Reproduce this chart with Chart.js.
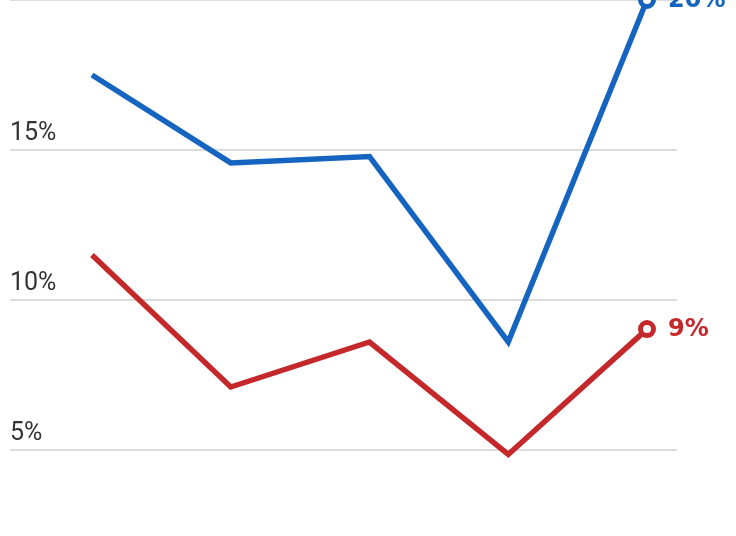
<!DOCTYPE html>
<html>
<head>
<meta charset="utf-8">
<script src="https://cdn.jsdelivr.net/npm/chart.js@4"></script>
<style>
  html, body { margin: 0; padding: 0; background: #fff; }
  #wrap { width: 736px; height: 536px; position: relative; }
</style>
</head>
<body>
<div id="wrap"><canvas id="chart"></canvas></div>
<script>
// values (percent)
const years = ['2018', '2019', '2020', '2021', '2022'];
const blueValues = [17.5, 14.57, 14.78, 8.6, 20];
const redValues = [11.5, 7.1, 8.6, 4.85, 9.03];
const tickValues = [5, 10, 15, 20];
const tickLabels = ['5%', '10%', '15%', '20%'];

const blue = '#1565c0';
const red = '#c4282a';

// gridlines + left labels sitting on top of each line
const gridPlugin = {
    id: 'grid',
    beforeDatasetsDraw(chart) {
        const ctx = chart.ctx;
        const y = chart.scales.y;
        ctx.save();
        tickValues.forEach((v, i) => {
            const py = Math.round(y.getPixelForValue(v));
            ctx.strokeStyle = '#dcdcdc';
            ctx.lineWidth = 2;
            ctx.beginPath();
            ctx.moveTo(10, py);
            ctx.lineTo(677, py);
            ctx.stroke();
            ctx.fillStyle = '#333';
            ctx.font = '25px Roboto';
            ctx.textAlign = 'left';
            ctx.textBaseline = 'alphabetic';
            ctx.fillText(tickLabels[i], 10, py - 10);
        });
        ctx.restore();
    }
};

// value label next to the last point of each line
const endLabels = {
    id: 'endLabels',
    afterDatasetsDraw(chart) {
        const ctx = chart.ctx;
        ctx.save();
        chart.data.datasets.forEach((ds, i) => {
            const meta = chart.getDatasetMeta(i);
            const last = meta.data[meta.data.length - 1];
            const v = ds.data[ds.data.length - 1];
            ctx.fillStyle = ds.borderColor;
            ctx.font = 'bold 24px "DejaVu Sans"';
            ctx.textAlign = 'left';
            ctx.textBaseline = 'middle';
            ctx.fillText(Math.round(v) + '%', last.x + 21, last.y + 1);
        });
        ctx.restore();
    }
};

function lastOnly(val) {
    return (c) => c.dataIndex === c.dataset.data.length - 1 ? val : 0;
}

new Chart(document.getElementById('chart'), {
    type: 'line',
    data: {
        labels: years,
        datasets: [
            {
                label: 'Blue',
                data: blueValues,
                borderColor: blue,
                backgroundColor: '#fff',
                borderWidth: 5.5,
                pointRadius: lastOnly(6.5),
                pointBorderWidth: 5,
                pointBackgroundColor: '#fff',
                pointBorderColor: blue,
                borderJoinStyle: 'miter',
                tension: 0,
                clip: false,
            },
            {
                label: 'Red',
                data: redValues,
                borderColor: red,
                backgroundColor: '#fff',
                borderWidth: 5.5,
                pointRadius: lastOnly(6.5),
                pointBorderWidth: 5,
                pointBackgroundColor: '#fff',
                pointBorderColor: red,
                borderJoinStyle: 'miter',
                tension: 0,
                clip: false,
            }
        ]
    },
    options: {
        responsive: true,
        maintainAspectRatio: false,
        animation: false,
        layout: { autoPadding: false, padding: { left: 92, right: 89, top: 0, bottom: 0 } },
        plugins: {
            legend: { display: false },
            tooltip: { enabled: false },
        },
        scales: {
            x: { display: false, offset: false },
            y: { display: false, min: 20 - 536 / 30, max: 20 },
        },
    },
    plugins: [gridPlugin, endLabels]
});
</script>
</body>
</html>
